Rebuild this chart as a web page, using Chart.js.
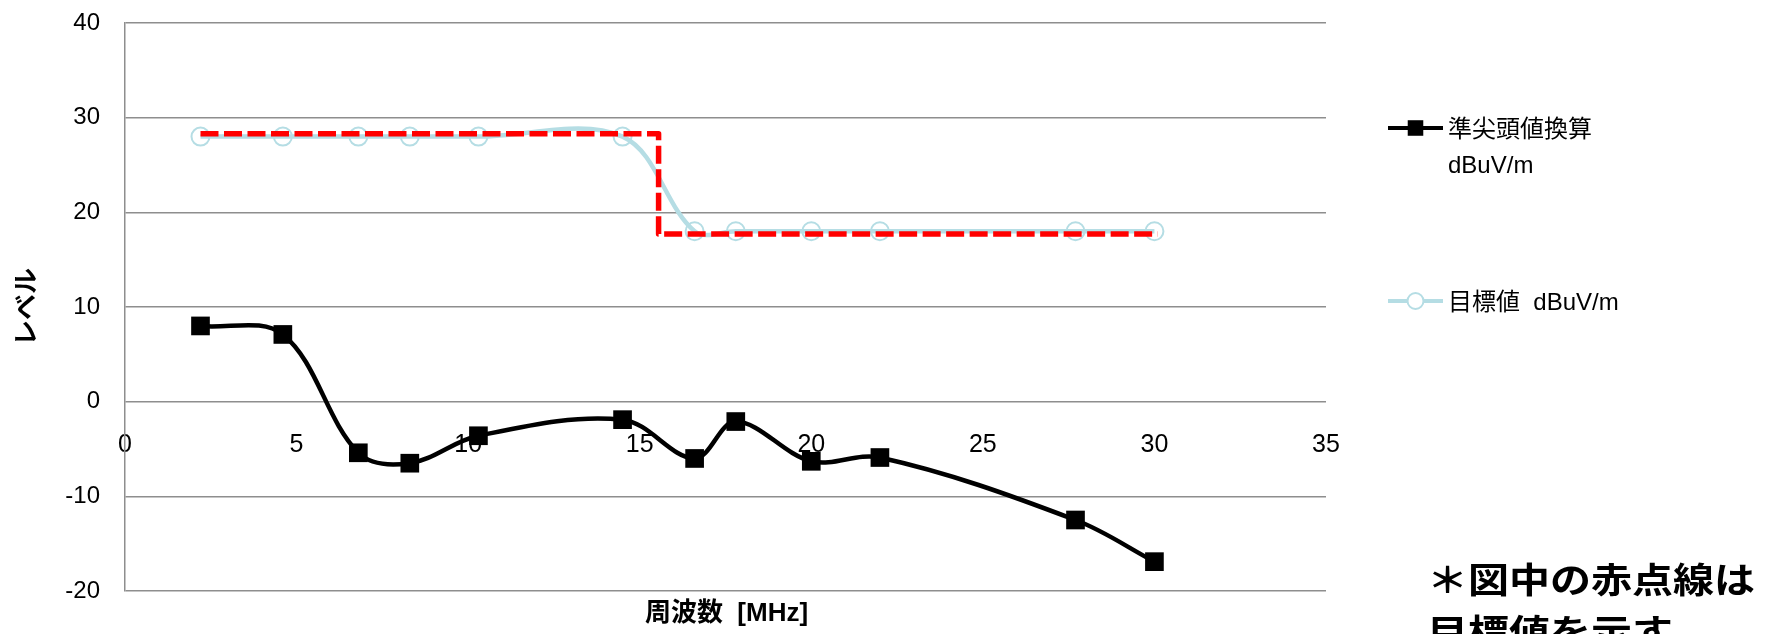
<!DOCTYPE html>
<html>
<head>
<meta charset="utf-8">
<script src="https://cdn.jsdelivr.net/npm/chart.js@4/dist/chart.umd.min.js"></script>
<style>
  html, body { margin: 0; padding: 0; background: #fff; overflow: hidden; }
  #wrap { position: relative; width: 1777px; height: 634px; }
</style>
</head>
<body>
<div id="wrap"><canvas id="chart" width="1777" height="634"></canvas></div>
<script>
// Measurement frequencies [MHz]
const freqMHz = [2.2, 4.6, 6.8, 8.3, 10.3, 14.5, 16.6, 17.8, 20.0, 22.0, 27.7, 30.0];
// Quasi-peak converted level [dBuV/m]
const quasiPeak = [8.0, 7.1, -5.4, -6.5, -3.6, -1.9, -6.0, -2.1, -6.3, -5.9, -12.5, -16.9];
// Target level [dBuV/m]
const targetLevel = [28, 28, 28, 28, 28, 28, 18, 18, 18, 18, 18, 18];
// Red dotted step line marking the target
const stepFreq = [2.2, 15.55, 15.55, 30.1];
const stepLevel = [28.3, 28.3, 17.7, 17.7];

const seriesLabels = [['準尖頭値換算', 'dBuV/m'], ['目標値  dBuV/m']];
const yTicks = [-20, -10, 0, 10, 20, 30, 40];
const xTicks = [0, 5, 10, 15, 20, 25, 30, 35];
const yTitle = 'レベル';
const xTitle = '周波数  [MHz]';
const noteLines = ['＊図中の赤点線は', '目標値を示す'];

const LATIN = '"Liberation Sans", Arial, "Noto Sans CJK JP", sans-serif';
const CJK = '"Noto Sans CJK JP", "Liberation Sans", sans-serif';
const GRID = '#8e8e8e';
const BLUE = '#b5dde4';

const toPoints = (xs, ys) => xs.map((x, i) => ({ x, y: ys[i] }));

// Axis titles, side legend and the note in the lower right
const annotations = {
  id: 'annotations',
  afterDraw(chart) {
    const ctx = chart.ctx;
    const area = chart.chartArea;
    ctx.save();
    ctx.fillStyle = '#000';

    // y axis title
    ctx.save();
    ctx.translate(25, (area.top + area.bottom) / 2);
    ctx.rotate(-Math.PI / 2);
    ctx.font = 'bold 26px ' + CJK;
    ctx.textAlign = 'center';
    ctx.textBaseline = 'middle';
    ctx.fillText(yTitle, 0, 0);
    ctx.restore();

    // x axis title
    ctx.font = 'bold 26px "Liberation Sans", "Noto Sans CJK JP", sans-serif';
    ctx.textAlign = 'center';
    ctx.textBaseline = 'middle';
    ctx.fillText(xTitle, (area.left + area.right) / 2 + 1, 614);

    // legend
    const rows = [{ y: 128 }, { y: 301 }];
    rows.forEach((row, i) => {
      const ds = chart.data.datasets[i];
      ctx.save();
      ctx.strokeStyle = ds.borderColor;
      ctx.lineWidth = 4;
      ctx.beginPath();
      ctx.moveTo(1388, row.y);
      ctx.lineTo(1443, row.y);
      ctx.stroke();
      ctx.fillStyle = i === 0 ? ds.pointBackgroundColor : '#ffffff';
      ctx.strokeStyle = ds.pointBorderColor;
      ctx.lineWidth = ds.pointBorderWidth;
      Chart.helpers.drawPoint(ctx, {
        pointStyle: ds.pointStyle,
        radius: i === 0 ? 11 : 8,
        borderWidth: ds.pointBorderWidth,
        rotation: 0
      }, 1415.5, row.y);
      ctx.restore();
      ctx.fillStyle = '#000';
      ctx.font = '24px ' + LATIN;
      ctx.textAlign = 'left';
      ctx.textBaseline = 'middle';
      seriesLabels[i].forEach((t, k) => ctx.fillText(t, 1448, row.y + 2 + k * 36));
    });

    // note (the glyphs are set slightly flattened)
    ctx.font = 'bold 41px ' + CJK;
    ctx.textAlign = 'left';
    ctx.textBaseline = 'middle';
    noteLines.forEach((t, k) => {
      ctx.save();
      ctx.translate(1427, 580 + k * 52);
      ctx.scale(1, 0.86);
      ctx.fillText(t, 0, 0);
      ctx.restore();
    });
    ctx.restore();
  }
};

const zeroPadding = (scale) => {
  scale.paddingTop = 0;
  scale.paddingBottom = 0;
  scale.paddingLeft = 0;
  scale.paddingRight = 0;
};

new Chart(document.getElementById('chart'), {
  type: 'line',
  data: {
    datasets: [
      {
        label: seriesLabels[0].join(' '),
        data: toPoints(freqMHz, quasiPeak),
        borderColor: '#000',
        borderWidth: 4.5,
        tension: 0.35,
        pointStyle: 'rect',
        pointRadius: 13.2,
        pointBackgroundColor: '#000',
        pointBorderColor: '#000',
        pointBorderWidth: 0,
        order: 1
      },
      {
        label: seriesLabels[1].join(' '),
        data: toPoints(freqMHz, targetLevel),
        borderColor: BLUE,
        borderWidth: 4.5,
        tension: 0.35,
        pointStyle: 'circle',
        pointRadius: 9,
        pointBackgroundColor: 'rgba(0,0,0,0)',
        pointBorderColor: BLUE,
        pointBorderWidth: 2,
        order: 2
      },
      {
        label: 'step',
        data: toPoints(stepFreq, stepLevel),
        borderColor: '#ff0000',
        borderWidth: 5.5,
        borderDash: [18, 5.5],
        borderJoinStyle: 'round',
        tension: 0,
        pointRadius: 0,
        order: 0
      }
    ]
  },
  options: {
    responsive: false,
    animation: false,
    devicePixelRatio: 1,
    clip: false,
    layout: { padding: { left: 0, right: 451, top: 23, bottom: 43 } },
    plugins: {
      legend: { display: false },
      tooltip: { enabled: false }
    },
    scales: {
      x: {
        type: 'linear',
        position: { y: 0 },
        min: 0,
        max: 35,
        afterBuildTicks(scale) { scale.ticks = xTicks.map(v => ({ value: v })); },
        afterFit: zeroPadding,
        ticks: { font: { family: LATIN, size: 25 }, color: '#000', padding: 28, maxRotation: 0 },
        grid: { display: false, drawTicks: false },
        border: { display: false }
      },
      y: {
        min: -20,
        max: 40,
        afterBuildTicks(scale) { scale.ticks = yTicks.map(v => ({ value: v })); },
        afterFit(scale) { scale.width = 125; zeroPadding(scale); },
        ticks: { font: { family: LATIN, size: 24 }, color: '#000', padding: 25 },
        grid: { color: GRID, lineWidth: 1.5, drawTicks: false },
        border: { display: true, color: GRID, width: 1.5 }
      }
    }
  },
  plugins: [annotations]
});
</script>
</body>
</html>
